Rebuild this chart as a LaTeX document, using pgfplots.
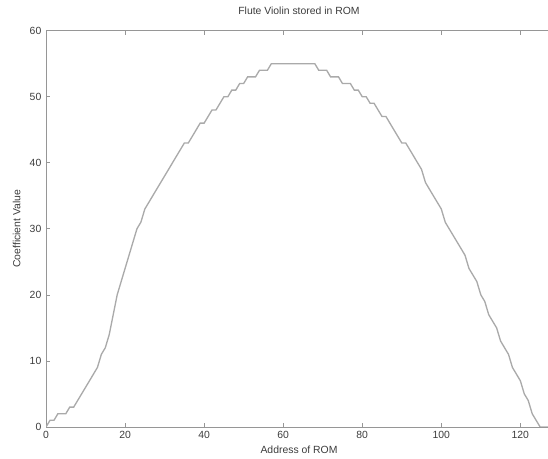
\documentclass[border=0pt]{standalone}
\usepackage{pgfplots}
\pgfplotsset{compat=1.18}
\usepackage{fontspec}
\setmainfont{Liberation Sans}
\usetikzlibrary{calc}

\definecolor{axgray}{RGB}{150,150,150}
\definecolor{txtgray}{RGB}{60,60,60}
\definecolor{curvegray}{RGB}{170,170,170}

\pgfplotstableread{
addr coef
0 0
1 1
2 1
3 2
4 2
5 2
6 3
7 3
8 4
9 5
10 6
11 7
12 8
13 9
14 11
15 12
16 14
17 17
18 20
19 22
20 24
21 26
22 28
23 30
24 31
25 33
26 34
27 35
28 36
29 37
30 38
31 39
32 40
33 41
34 42
35 43
36 43
37 44
38 45
39 46
40 46
41 47
42 48
43 48
44 49
45 50
46 50
47 51
48 51
49 52
50 52
51 53
52 53
53 53
54 54
55 54
56 54
57 55
58 55
59 55
60 55
61 55
62 55
63 55
64 55
65 55
66 55
67 55
68 55
69 54
70 54
71 54
72 53
73 53
74 53
75 52
76 52
77 52
78 51
79 51
80 50
81 50
82 49
83 49
84 48
85 47
86 47
87 46
88 45
89 44
90 43
91 43
92 42
93 41
94 40
95 39
96 37
97 36
98 35
99 34
100 33
101 31
102 30
103 29
104 28
105 27
106 26
107 24
108 23
109 22
110 20
111 19
112 17
113 16
114 15
115 13
116 12
117 11
118 9
119 8
120 7
121 5
122 4
123 2
124 1
125 0
126 0
127 0
}\romdata

\begin{document}
\begin{tikzpicture}
\begin{axis}[
    scale only axis,
    width=379.2pt,
    height=297pt,
    xmin=0, xmax=128,
    ymin=0, ymax=60,
    xtick={0,20,...,120},
    ytick={0,10,...,60},
    tick align=inside,
    major tick length=3pt,
    axis line style={axgray, line width=0.6pt},
    every tick/.style={axgray, line width=0.5pt},
    tick label style={font=\fontsize{7.8}{9}\selectfont, text=txtgray},
    /pgf/number format/assume math mode=true,
    title={Flute Violin stored in ROM},
    title style={font=\fontsize{7.8}{9}\selectfont, text=txtgray, at={(0.5,1)}, anchor=base, yshift=6pt},
    xlabel={Address of ROM},
    xlabel style={font=\fontsize{7.8}{9}\selectfont, text=txtgray, at={(0.5,0)}, anchor=base, yshift=-20pt},
    ylabel={Coefficient Value},
    ylabel style={font=\fontsize{7.8}{9}\selectfont, text=txtgray, at={(0,0.5)}, anchor=center, yshift=22pt},
]
\addplot[curvegray, line width=1pt] table[x=addr, y=coef] {\romdata};
\coordinate (br) at (axis cs:127,0);
\end{axis}
\pgfresetboundingbox
\coordinate (bl) at ($(current axis.south west)+(-34.5pt,-24pt)$);
\coordinate (tr) at ($(current axis.north west -| br)+(0,23pt)$);
\path[use as bounding box] (bl) rectangle (tr);
\end{tikzpicture}
\end{document}
